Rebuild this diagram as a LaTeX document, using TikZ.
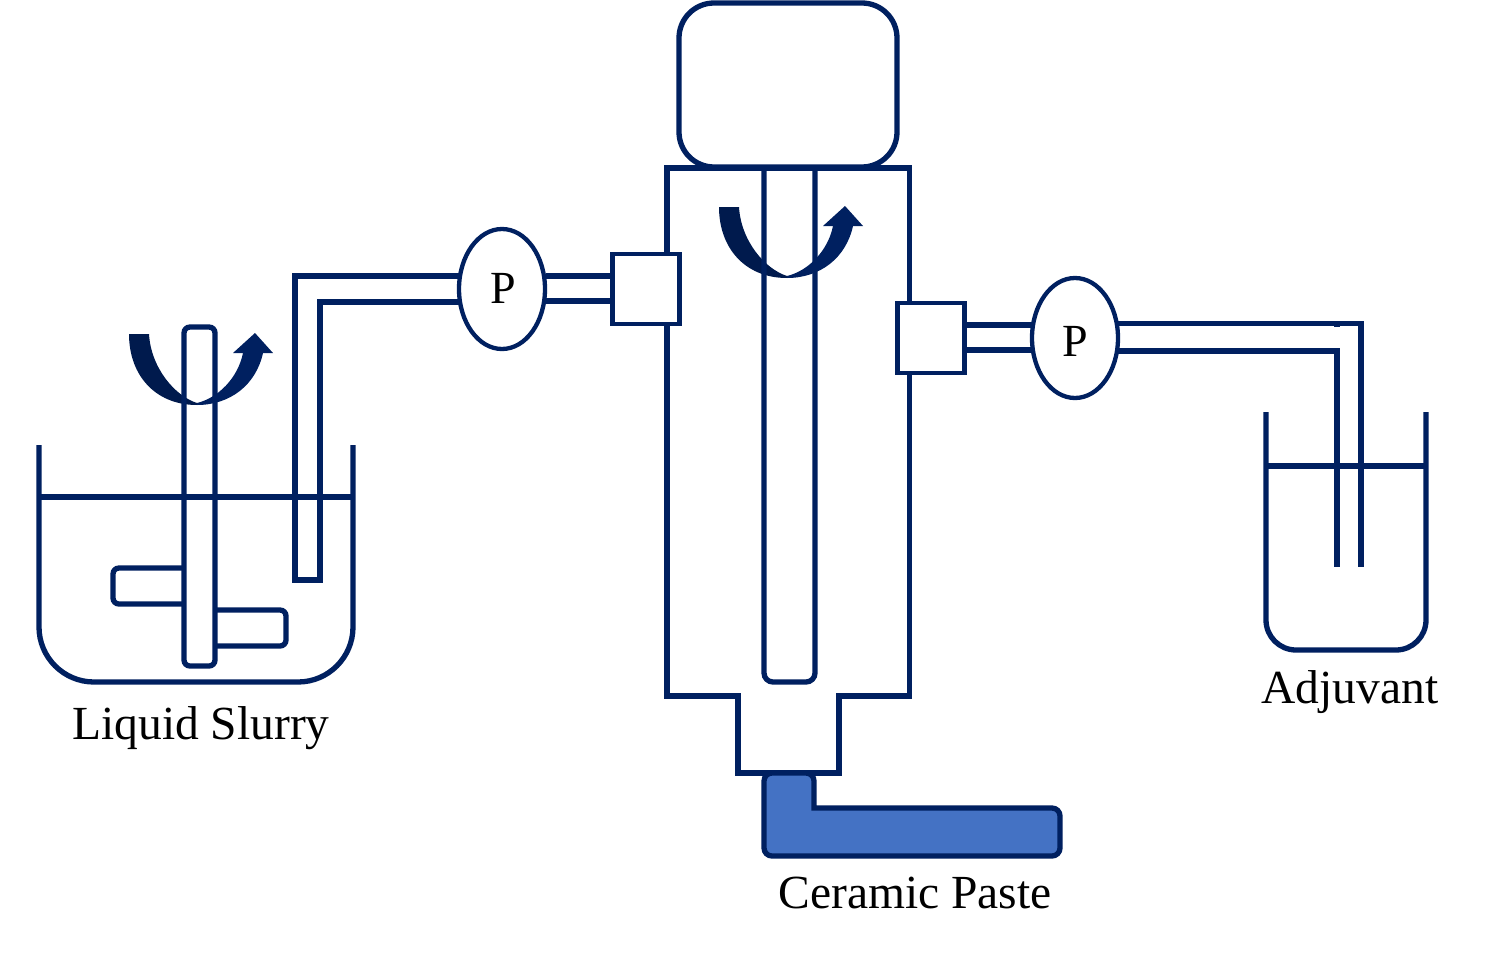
\documentclass[tikz,border=0pt]{standalone}
\usepackage{fontspec}
\setmainfont{Liberation Serif}
\usetikzlibrary{shapes.geometric}
\definecolor{navy}{HTML}{002060}
\definecolor{navydark}{HTML}{001A4D}
\definecolor{paste}{HTML}{4472C4}
\tikzset{
  ln/.style={draw=navy,line width=5.3pt,line join=miter},
  pumpnode/.style={ellipse,draw=navy,line width=4.3pt,fill=white,minimum width=86pt,minimum height=120pt,inner sep=0pt,outer sep=0pt},
  portbox/.style={rectangle,draw=navy,line width=4.8pt,fill=white,minimum width=67pt,minimum height=70pt,inner sep=0pt,outer sep=0pt},
  lbl/.style={inner sep=0pt,text=black,font=\fontsize{46}{46}\selectfont},
  pipe/.style={draw=navy,line width=5.3pt},
  pcap/.style={inner sep=0pt,text=black,font=\fontsize{47.5}{47.5}\selectfont}
}
\newcommand{\crescent}[2]{%
  \begin{scope}[shift={(#1,#2)}]
    \fill[navydark] (129,334) -- (149,334) .. controls (151,368) and (175,396) .. (197,403)
      -- (197,405) .. controls (155,405) and (129,375) .. (129,334) -- cycle;
    \fill[navy] (197,403) .. controls (218,398) and (238,378) .. (243,353) -- (233,353) -- (255,333) -- (273,353)
      -- (263,353) .. controls (256,385) and (230,405) .. (197,405) -- cycle;
  \end{scope}}
\begin{document}
\begin{tikzpicture}[x=1pt,y=-1pt]
\useasboundingbox (0,0) rectangle (1505,953);
\fill[white] (0,0) rectangle (1505,953);

% left tank
\draw[ln,rounded corners=55pt] (39,445) -- (39,682) -- (353,682) -- (353,445);
\coordinate (lsL) at (39,497);
\coordinate (lsR) at (353,497);
\draw[ln] (lsL) -- (lsR);

% left crescent and stirrer
\crescent{0}{0}
\draw[ln,rounded corners=6pt] (184,327) rectangle (215,666);
\draw[ln,rounded corners=6pt] (184,568) -| (113,604) -- (184,604);
\draw[ln,rounded corners=6pt] (215,610) -- (286,610) -- (286,646) -- (215,646);

% left pipe and pump
\coordinate (lpA) at (295,276);
\coordinate (lpB) at (320,302);
\draw[pipe] (460,276) -- (lpA) -- (295,580) -- (320,580) -- (lpB) -- (460,302);
\node[pumpnode] (p1) at (502,289) {};
\node[lbl] (p1t) at (503,288.5) {P};

% reactor
\draw[ln] (667,168) -- (909.5,168) -- (909.5,696) -- (839,696) -- (839,773) -- (738,773) -- (738,696) -- (667,696) -- cycle;
% motor
\draw[ln,fill=white,rounded corners=35pt] (679,3) rectangle (897,167);
\draw[ln] (667,168) -- (909.5,168);
% crescent and shaft
\crescent{590}{-127}
\draw[ln,rounded corners=9pt] (764,168) -- (764,682) -- (815,682) -- (815,168);

% ports
\coordinate (a1) at (546,276);
\coordinate (a2) at (546,301);
\node[portbox] (b1) at (646,289) {};
\draw[pipe] (a1) -- (b1.west |- a1);
\draw[pipe] (a2) -- (b1.west |- a2);
\node[portbox] (b2) at (931,338) {};
\coordinate (c1) at (1032,325);
\coordinate (c2) at (1032,350);
\draw[pipe] (b2.east |- c1) -- (c1);
\draw[pipe] (b2.east |- c2) -- (c2);

% right pump and pipe
\coordinate (rpA) at (1361,323.5);
\coordinate (rpB) at (1337,351);
\draw[pipe] (1075,323.5) -- (rpA) -- (1361,567);
\draw[pipe] (1075,351) -- (rpB) -- (1337,567);
\draw[pipe] (1337,323) -- (1337,327);
\node[pumpnode] (p2) at (1075,338) {};
\node[lbl] (p2t) at (1075,341.5) {P};

% right tank
\draw[ln,rounded corners=30pt] (1266,412) -- (1266,650) -- (1426,650) -- (1426,412);
\coordinate (asL) at (1266,466);
\coordinate (asR) at (1426,466);
\draw[ln] (asL) -- (asR);

% paste
\draw[ln,fill=paste] (772,773) -- (806,773) arc[start angle=90,end angle=0,radius=8pt]
  -- (814,808) -- (1052,808) arc[start angle=90,end angle=0,radius=8pt]
  -- (1060,848) arc[start angle=0,end angle=-90,radius=8pt]
  -- (772,856) arc[start angle=-90,end angle=-180,radius=8pt]
  -- (764,781) arc[start angle=180,end angle=90,radius=8pt] -- cycle;

% labels
\node[pcap] (t1) at (201,728) {Liquid Slurry};
\node[pcap] (t2) at (1350,692) {Adjuvant};
\node[pcap] (t3) at (915,893) {Ceramic Paste};
\end{tikzpicture}
\end{document}
